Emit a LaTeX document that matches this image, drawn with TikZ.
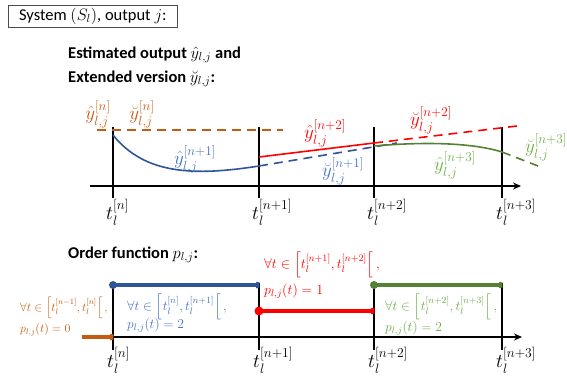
\RequirePackage{fix-cm}
\documentclass[tikz,border=0pt]{standalone}
\usepackage{amsmath}
\usepackage{fontspec}
\setmainfont{Carlito}
\usetikzlibrary{arrows.meta}
\definecolor{corange}{HTML}{C55A11}
\definecolor{cblue}{HTML}{2F5597}
\definecolor{cbluet}{HTML}{4472C4}
\definecolor{cred}{HTML}{FF0000}
\definecolor{cgreen}{HTML}{548235}
\definecolor{cgreent}{HTML}{70AD47}
\tikzset{
  axis/.style={line width=1.6pt, black},
  tick/.style={line width=1.6pt, black},
  curve/.style={line width=1.6pt},
  dsh/.style={line width=1.6pt, dash pattern=on 9pt off 6pt},
  lvl/.style={line width=3.5pt},
  lab/.style={font=\fontsize{19}{21}\selectfont, inner sep=0pt},
  tlab/.style={font=\fontsize{19.5}{21}\selectfont, inner sep=0pt, anchor=north west},
  cond/.style={font=\fontsize{13.5}{16}\selectfont, inner sep=0pt, anchor=west},
  heading/.style={font=\bfseries\fontsize{16.5}{19}\selectfont, inner sep=0pt, anchor=west},
  dot/.style={circle, fill, inner sep=0pt, minimum size=8pt},
  endtip/.style={-{Parenthesis[reversed, length=3pt, width=10pt]}}
}
\begin{document}
\begin{tikzpicture}[x=1pt, y=-1pt]
\useasboundingbox (0,0) rectangle (567,376);
% title
\node[draw=black!70, line width=0.6pt, anchor=north west, minimum width=169pt, minimum height=22pt, inner sep=0pt, font=\fontsize{16.5}{18}\selectfont] (title) at (8,5) {System $(S_l)$, output $j$:};
\node[heading] (h1) at (68,55) {Estimated output $\hat{y}_{l,j}$ and};
\node[heading] (h2) at (68,79) {Extended version $\breve{y}_{l,j}$:};
% upper axis
\coordinate (ua0) at (90,186);
\coordinate (ua1) at (521,186);
\draw[axis, -{Stealth[length=8pt, width=7pt]}] (ua0) -- (ua1);
\foreach \x/\n in {113/a, 259/b, 374/c, 502/d} {
  \coordinate (ut\n) at (\x,127);
  \coordinate (ub\n) at (\x,198);
  \draw[tick] (ut\n) -- (ub\n);
}
\node[tlab] (t1) at (106,199) {$t_l^{[n]}$};
\node[tlab] (t2) at (252,199) {$t_l^{[n+1]}$};
\node[tlab] (t3) at (367,199) {$t_l^{[n+2]}$};
\node[tlab] (t4) at (496,199) {$t_l^{[n+3]}$};
% orange dashed
\coordinate (o0) at (97,130);
\coordinate (o1) at (283,130);
\draw[dsh, corange] (o0) -- (o1);
\node[lab, text=corange] (ly1) at (98,114) {$\hat{y}_{l,j}^{[n]}$};
\node[lab, text=corange] (ly2) at (142,114) {$\breve{y}_{l,j}^{[n]}$};
% blue
\coordinate (b0) at (113,135);
\coordinate (b1) at (259,166);
\coordinate (b2) at (397,143);
\draw[curve, cblue] (b0) .. controls (145,175) and (195,176) .. (b1);
\draw[dsh, cblue] (b1) -- (b2);
\node[lab, text=cbluet] (ly3) at (195,159) {$\hat{y}_{l,j}^{[n+1]}$};
\node[lab, text=cbluet] (ly4) at (343,171) {$\breve{y}_{l,j}^{[n+1]}$};
% red
\coordinate (r0) at (259,157);
\coordinate (r1) at (374,143);
\coordinate (r2) at (517,126);
\draw[curve, cred] (r0) -- (r1);
\draw[dsh, cred] (r1) -- (r2);
\node[lab, text=cred] (ly5) at (325,133) {$\hat{y}_{l,j}^{[n+2]}$};
\node[lab, text=cred] (ly6) at (431,120) {$\breve{y}_{l,j}^{[n+2]}$};
% green
\coordinate (g0) at (374,146);
\coordinate (g1) at (502,152);
\coordinate (g2) at (538,166);
\draw[curve, cgreen] (g0) .. controls (420,142) and (470,142) .. (g1);
\draw[dsh, cgreen] (g1) -- (g2);
\node[lab, text=cgreent] (ly7) at (455,165) {$\hat{y}_{l,j}^{[n+3]}$};
\node[lab, text=cgreent] (ly8) at (546,147) {$\breve{y}_{l,j}^{[n+3]}$};
% lower part
\node[heading] (h3) at (68,255) {Order function $p_{l,j}$:};
\coordinate (la0) at (113,337);
\coordinate (la1) at (522,337);
\draw[axis, -{Stealth[length=8pt, width=7pt]}] (la0) -- (la1);
\foreach \x/\n in {113/a, 259/b, 374/c, 502/d} {
  \coordinate (lt\n) at (\x,283);
  \coordinate (lb\n) at (\x,350);
  \draw[tick] (lt\n) -- (lb\n);
}
\node[tlab] (s1) at (107,347) {$t_l^{[n]}$};
\node[tlab] (s2) at (253,347) {$t_l^{[n+1]}$};
\node[tlab] (s3) at (368,347) {$t_l^{[n+2]}$};
\node[tlab] (s4) at (496,347) {$t_l^{[n+3]}$};
% levels
\coordinate (po0) at (82,337);
\coordinate (po1) at (113,337);
\draw[lvl, corange, endtip] (po0) -- (po1);
\node[dot, fill=cblue] (pb0) at (113,285) {};
\coordinate (pb1) at (259,285);
\draw[lvl, cblue, endtip] (pb0.center) -- (pb1);
\node[dot, fill=cred, minimum size=9pt] (pr0) at (259,311) {};
\coordinate (pr1) at (374,311);
\draw[lvl, cred, endtip] (pr0.center) -- (pr1);
\node[dot, fill=cgreen] (pg0) at (374,285) {};
\coordinate (pg1) at (502,285);
\draw[lvl, cgreen, endtip] (pg0.center) -- (pg1);
% conditions
\node[cond, text=corange, font=\fontsize{12}{14}\selectfont] (c1a) at (20,308) {$\forall t\in\left[t_l^{[n-1]},t_l^{[n]}\right[,$};
\node[cond, text=corange, font=\fontsize{12}{14}\selectfont] (c1b) at (20,330) {$p_{l,j}(t)=0$};
\node[cond, text=cbluet] (c2a) at (127,307) {$\forall t\in\left[t_l^{[n]},t_l^{[n+1]}\right[,$};
\node[cond, text=cbluet] (c2b) at (127,325) {$p_{l,j}(t)=2$};
\node[cond, text=cred, font=\fontsize{14}{16}\selectfont] (c3a) at (264,265) {$\forall t\in\left[t_l^{[n+1]},t_l^{[n+2]}\right[,$};
\node[cond, text=cred, font=\fontsize{14}{16}\selectfont] (c3b) at (264,291) {$p_{l,j}(t)=1$};
\node[cond, text=cgreent] (c4a) at (385,307) {$\forall t\in\left[t_l^{[n+2]},t_l^{[n+3]}\right[,$};
\node[cond, text=cgreent] (c4b) at (385,328) {$p_{l,j}(t)=2$};
\end{tikzpicture}
\end{document}
